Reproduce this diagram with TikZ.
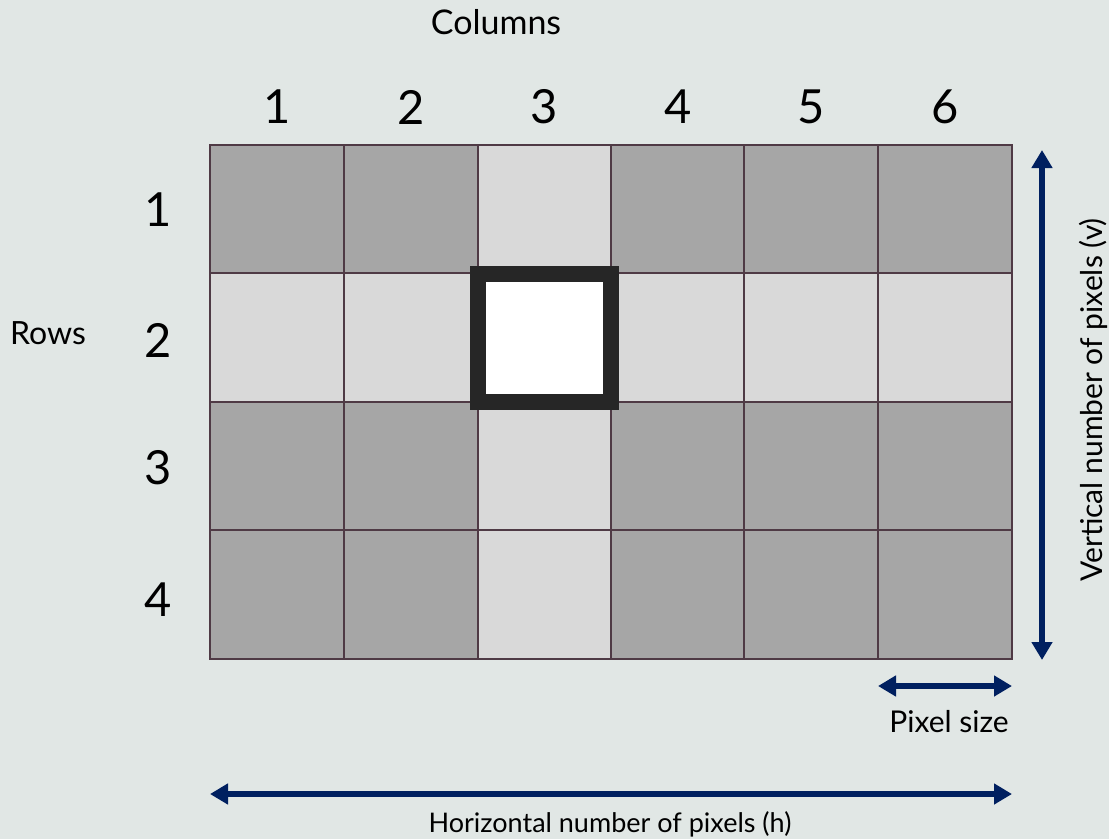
\documentclass[tikz,border=0pt]{standalone}
\usepackage{fontspec}
\setmainfont{Lato}
\usetikzlibrary{arrows.meta}
\definecolor{bgc}{HTML}{E1E7E5}
\definecolor{darkcell}{HTML}{A6A6A6}
\definecolor{lightcell}{HTML}{D9D9D9}
\definecolor{gridc}{HTML}{4F3A45}
\definecolor{navy}{HTML}{002060}
\definecolor{hl}{HTML}{262626}
\tikzset{
  cell/.style={draw=gridc, line width=2pt},
  dcell/.style={cell, fill=darkcell},
  lcell/.style={cell, fill=lightcell},
  bignum/.style={font=\fontsize{47}{47}\selectfont, inner sep=0pt},
  lbl/.style={font=\fontsize{33}{33}\selectfont, inner sep=0pt},
  dimarrow/.style={draw=navy, line width=6pt, {Triangle[length=18pt,width=20pt]}-{Triangle[length=18pt,width=20pt]}},
  hlbox/.style={draw=hl, line width=16pt, fill=white}
}
\begin{document}
\begin{tikzpicture}[x=1pt,y=-1pt]
\fill[bgc] (0,0) rectangle (1109,839);
\useasboundingbox (0,0) rectangle (1109,839);
% grid coordinates
\def\xs{{210,344,478,611,744,878,1012}}
\def\ys{{145,273,402,530,659}}
% cells: column 3 and row 2 light
\foreach \r in {0,1,2,3}{
  \foreach \c in {0,...,5}{
    \pgfmathsetmacro{\xa}{\xs[\c]}
    \pgfmathsetmacro{\xb}{\xs[\c+1]}
    \pgfmathsetmacro{\ya}{\ys[\r]}
    \pgfmathsetmacro{\yb}{\ys[\r+1]}
    \pgfmathtruncatemacro{\islight}{(\c==2 || \r==1) ? 1 : 0}
    \ifnum\islight=1
      \path[lcell] (\xa,\ya) rectangle (\xb,\yb);
    \else
      \path[dcell] (\xa,\ya) rectangle (\xb,\yb);
    \fi
  }
}
% highlighted pixel
\node[hlbox, minimum width=133pt, minimum height=128pt, inner sep=0pt] (hlpix) at (544.5,338) {};
% column numbers
\foreach \c/\xx in {1/277,2/411,3/544,4/678,5/811,6/945}{
  \node[bignum] (col\c) at (\xx,107) {\c};
}
% row numbers
\foreach \r/\yy in {1/210,2/340,3/468,4/600}{
  \node[bignum] (row\r) at (158,\yy) {\r};
}
\node[lbl, font=\fontsize{34}{34}\selectfont] (columns) at (496,22) {Columns};
\node[lbl, font=\fontsize{32}{32}\selectfont] (rows) at (48,333) {Rows};
\node[lbl, font=\fontsize{30}{30}\selectfont] (pixsize) at (949,722) {Pixel size};
\node[lbl, font=\fontsize{27}{27}\selectfont, anchor=base] (hlabel) at (610,832) {Horizontal number of pixels (h)};
\node[lbl, font=\fontsize{30}{30}\selectfont, anchor=base, rotate=90] (vlabel) at (1102,400) {Vertical number of pixels (v)};
% arrows
\coordinate (vtop) at (1042,150);
\coordinate (vbot) at (1042,660);
\coordinate (hl) at (210,794);
\coordinate (hr) at (1012,794);
\coordinate (pl) at (878,686);
\coordinate (pr) at (1012,686);
\draw[dimarrow] (vtop) -- (vbot);
\draw[dimarrow] (hl) -- (hr);
\draw[dimarrow] (pl) -- (pr);
\end{tikzpicture}
\end{document}
